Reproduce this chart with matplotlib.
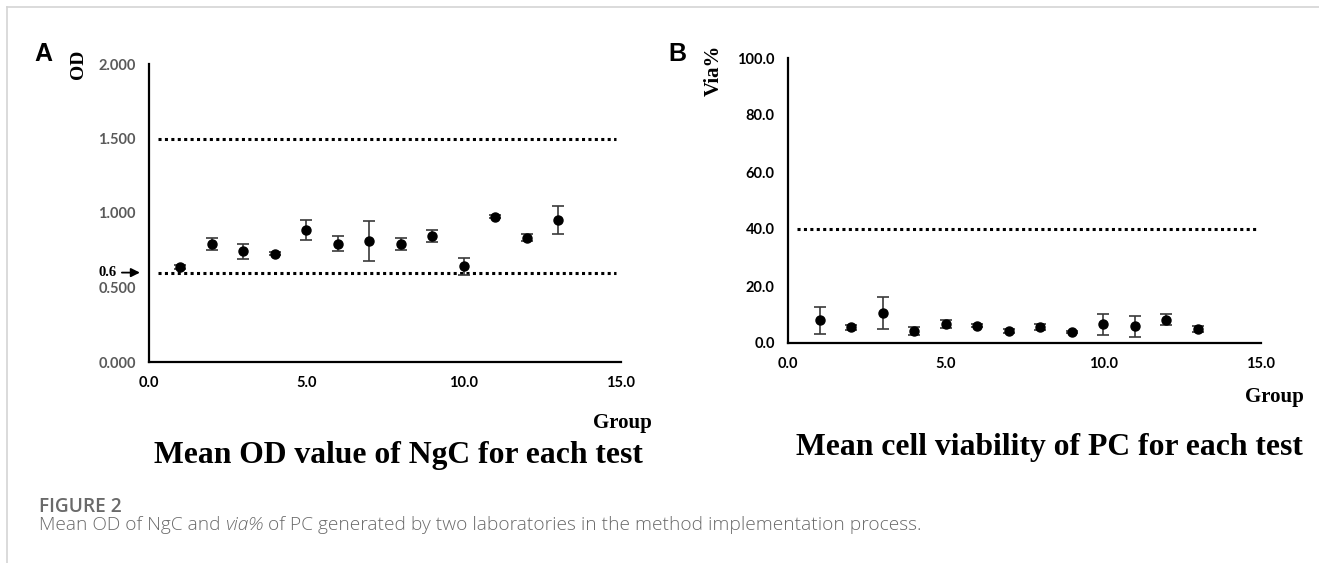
import matplotlib
matplotlib.use("Agg")
import matplotlib.pyplot as plt
from matplotlib.lines import Line2D

# ---- data ----
groups = [1, 2, 3, 4, 5, 6, 7, 8, 9, 10, 11, 12, 13]
od_mean = [0.636, 0.795, 0.743, 0.728, 0.886, 0.795, 0.812, 0.795, 0.846, 0.641, 0.975, 0.835, 0.953]
od_err = [0.015, 0.040, 0.052, 0.010, 0.065, 0.050, 0.134, 0.040, 0.040, 0.060, 0.010, 0.025, 0.092]
od_limits = [1.5, 0.6]
od_ticks = [0.0, 0.5, 1.0, 1.5, 2.0]

via_mean = [7.9, 5.5, 10.5, 4.3, 6.6, 6.1, 4.2, 5.6, 3.8, 6.6, 5.9, 8.2, 4.9]
via_err = [4.6, 0.8, 5.5, 1.4, 1.3, 0.5, 0.6, 1.0, 0.3, 3.7, 3.7, 2.0, 1.2]
via_limit = [40.0]
via_ticks = [0.0, 20.0, 40.0, 60.0, 80.0, 100.0]
x_ticks = [0.0, 5.0, 10.0, 15.0]

W, H = 1319, 563
fig = plt.figure(figsize=(W / 100, H / 100), dpi=100)
fig.patch.set_facecolor("white")

def fx(px):
    return px / W

def fy(py):
    return 1 - py / H

SERIF = "Liberation Serif"
SANS = "Liberation Sans"
TICKF = "Lato"

def style_axes(ax, ymax, ytick_fmt, ytick_color):
    ax.set_xlim(0, 15)
    ax.set_ylim(0, ymax)
    for s in ["top", "right"]:
        ax.spines[s].set_visible(False)
    for s in ["left", "bottom"]:
        ax.spines[s].set_linewidth(1.6)
        ax.spines[s].set_color("black")
    ax.tick_params(axis="both", length=0)
    ax.tick_params(axis="y", pad=9.5)
    ax.tick_params(axis="x", pad=10)
    ax.set_xticks(x_ticks)
    ax.set_xticklabels([f"{v:.1f}" for v in x_ticks], fontfamily=TICKF,
                       fontweight="bold", fontsize=10.5, color="black")
    ax.set_yticklabels([ytick_fmt.format(v) for v in ax.get_yticks()],
                       fontfamily=TICKF, fontweight="bold", fontsize=10.5,
                       color=ytick_color)
    ax.set_facecolor("none")

# ---- Panel A ----
axA = fig.add_axes([fx(149), fy(362), fx(621 - 149), (362 - 64) / H])
axA.set_yticks(od_ticks)
style_axes(axA, 2.0, "{:.3f}", "#5a5a5a")
for lv in od_limits:
    axA.plot([0.3, 14.85], [lv, lv], color="black", lw=2.2,
             linestyle=(0, (1, 1.1)))
axA.errorbar(groups, od_mean, yerr=od_err, fmt="o", color="black",
             markersize=6.5, ecolor="#3a3a3a", elinewidth=1.2, capsize=4,
             capthick=1.2)
axA.annotate("", xy=(-0.2, 0.6), xytext=(-0.95, 0.6),
             arrowprops=dict(arrowstyle="-|>", color="black", lw=1.3,
                             mutation_scale=13), annotation_clip=False)
axA.text(-1.02, 0.6, "0.6", ha="right", va="center", fontfamily=SERIF,
         fontweight="bold", fontsize=10.5, color="black")

# ---- Panel B ----
axB = fig.add_axes([fx(788), fy(343), fx(1261 - 788), (343 - 58) / H])
axB.set_yticks(via_ticks)
style_axes(axB, 100.0, "{:.1f}", "black")
for lv in via_limit:
    axB.plot([0.3, 14.85], [lv, lv], color="black", lw=2.2,
             linestyle=(0, (1, 1.1)))
axB.errorbar(groups, via_mean, yerr=via_err, fmt="o", color="black",
             markersize=6.5, ecolor="#3a3a3a", elinewidth=1.2, capsize=4,
             capthick=1.2)

# ---- panel letters and labels ----
fig.text(fx(43), fy(54), "A", fontfamily=SANS, fontweight="bold",
         fontsize=18, ha="center", va="center")
fig.text(fx(677), fy(54), "B", fontfamily=SANS, fontweight="bold",
         fontsize=18, ha="center", va="center")
fig.text(fx(78), fy(64), "OD", fontfamily=SERIF, fontweight="bold",
         fontsize=14, rotation=90, ha="center", va="center")
fig.text(fx(714), fy(70), "Via%", fontfamily=SERIF, fontweight="bold",
         fontsize=15, rotation=90, ha="center", va="center")
fig.text(fx(622), fy(423), "Group", fontfamily=SERIF, fontweight="bold",
         fontsize=15, ha="center", va="center")
fig.text(fx(1274), fy(397), "Group", fontfamily=SERIF, fontweight="bold",
         fontsize=15, ha="center", va="center")
fig.text(fx(398), fy(455), "Mean OD value of NgC for each test",
         fontfamily=SERIF, fontweight="bold", fontsize=22.8, ha="center",
         va="center")
fig.text(fx(1049), fy(447), "Mean cell viability of PC for each test",
         fontfamily=SERIF, fontweight="bold", fontsize=22.8, ha="center",
         va="center")

# ---- caption ----
fig.text(fx(39), fy(507), "FIGURE 2", fontfamily="Open Sans",
         fontweight="semibold", fontsize=13.8, color="#6a6a6a",
         ha="left", va="center")
cap_parts = [("Mean OD of NgC and ", "normal"), ("via%", "italic"),
             (" of PC generated by two laboratories in the method implementation process.", "normal")]
fig.canvas.draw()
renderer = fig.canvas.get_renderer()
xpos = 39
for txt, st in cap_parts:
    t = fig.text(fx(xpos), fy(525), txt, fontfamily="Open Sans",
                 fontweight="light", fontstyle=st, fontsize=13.8,
                 color="#6a6a6a", ha="left", va="center")
    bb = t.get_window_extent(renderer=renderer)
    xpos += bb.width

# ---- frame lines ----
fig.add_artist(Line2D([fx(7), fx(7)], [fy(7), 0], color="#d4d4d4", lw=1.2))
fig.add_artist(Line2D([fx(7), 1], [fy(7), fy(7)], color="#d4d4d4", lw=1.2))

fig.savefig("out.png", dpi=100, facecolor="white")
